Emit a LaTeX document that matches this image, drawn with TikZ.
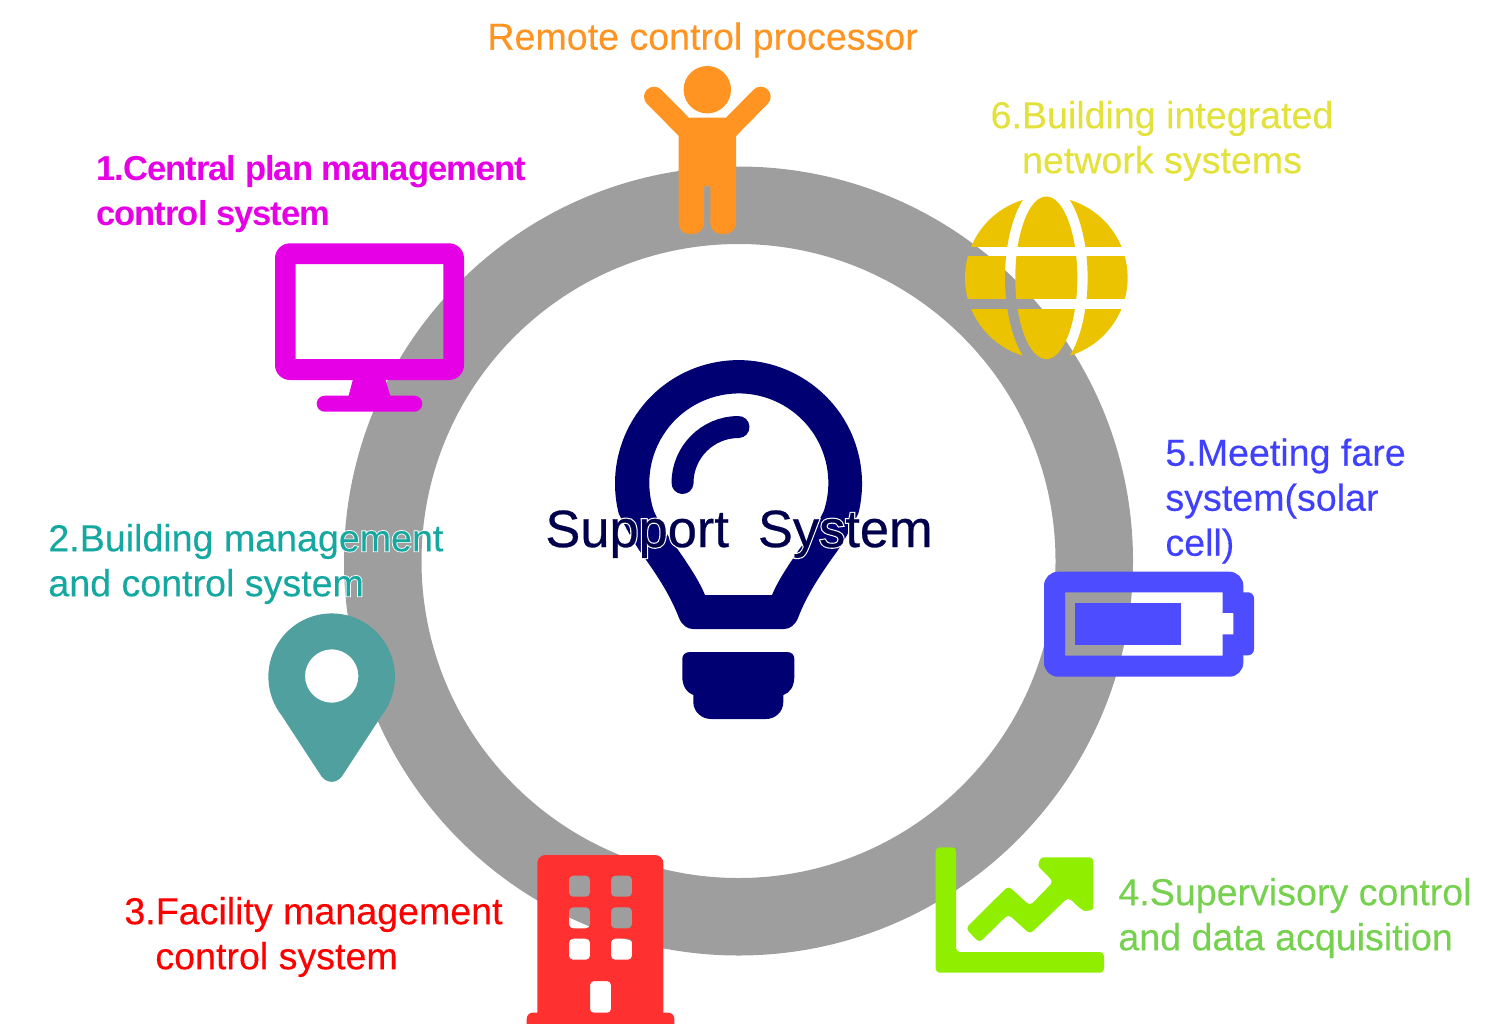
\documentclass[tikz,border=0pt]{standalone}
\usepackage{fontspec}
\setmainfont[FakeBold=0.2]{Liberation Sans}
\newfontfamily\headfont[FakeBold=0.5]{Liberation Sans}
\newfontfamily\halofont[FakeBold=5]{Liberation Sans}
\newfontfamily\boldlabel[LetterSpace=-2.9]{Liberation Sans Bold}
\usetikzlibrary{positioning}
\definecolor{ringcol}{HTML}{9E9E9E}
\definecolor{navycol}{HTML}{000073}
\definecolor{navytext}{HTML}{00004D}
\definecolor{magcol}{HTML}{E600E6}
\definecolor{pincol}{HTML}{50A0A0}
\definecolor{tealtext}{HTML}{14A8A0}
\definecolor{redcol}{HTML}{FF3030}
\definecolor{limecol}{HTML}{90EE00}
\definecolor{greentext}{HTML}{76D14F}
\definecolor{batcol}{HTML}{4D4DFF}
\definecolor{bluetext}{HTML}{4040FF}
\definecolor{globecol}{HTML}{EBC300}
\definecolor{yellowtext}{HTML}{E3E13B}
\definecolor{orangecol}{HTML}{FF9422}
\tikzset{
  lbl/.style={inner sep=0pt, anchor=west, align=left, font=\fontsize{18.8}{22.5}\selectfont},
  head/.style={inner sep=0pt, anchor=base west, font=\headfont\fontsize{26.2}{30}\selectfont},
  hole/.style={even odd rule}
}
\begin{document}
\begin{tikzpicture}[x=0.5pt,y=-0.5pt]
  \useasboundingbox (0,0) rectangle (1503,1023);
  % ring
  \fill [ringcol, hole] (738.5,561) circle [radius=394.5] (738.5,561) circle [radius=317];
  % bulb
  \fill [navycol, hole] (618.7,513.5) arc (166:374:123.5)
    .. controls (850,530) and (842,545) .. (833,557)
    .. controls (818,578) and (806,597) .. (798,618)
    .. controls (795,625) and (790,629) .. (784,629) -- (693,629)
    .. controls (687,629) and (682,625) .. (679,618)
    .. controls (671,597) and (659,578) .. (644,557)
    .. controls (635,545) and (627,530) .. (618.7,513.5) -- cycle
    (653.7,510.6) arc (162:378:89.5)
    .. controls (815,530) and (803,543) .. (792,560)
    .. controls (784,572) and (777,583) .. (772,595) -- (705,595)
    .. controls (700,583) and (693,572) .. (685,560)
    .. controls (674,543) and (662,530) .. (653.7,510.6) -- cycle;
  \draw [navycol, line width=11pt, line cap=round] (682.5,483) arc (180:270:56);
  \fill [navycol] (690,652) -- (787,652) .. controls (792,652) and (794.3,655) .. (794.3,659)
    -- (794.3,677) .. controls (794.3,686) and (790,693) .. (783.3,695) -- (783.3,702)
    .. controls (783.3,712) and (775,719) .. (766,719) -- (711,719)
    .. controls (702,719) and (693.3,712) .. (693.3,702) -- (693.3,695)
    .. controls (687,693) and (682.3,686) .. (682.3,677) -- (682.3,659)
    .. controls (682.3,655) and (685,652) .. (690,652) -- cycle;
  % monitor
  \fill [magcol, hole] [rounded corners=7.5pt] (275,243.3) rectangle (464,380)
    [sharp corners] (295.7,264) rectangle (443.3,359);
  \fill [magcol] (353.3,378) -- (385,378) -- (390.7,397) -- (348.3,397) -- cycle;
  \fill [magcol, rounded corners=4pt] (316.7,395.7) rectangle (422.3,411.7);
  % pin
  \fill [pincol, hole] (281.8,715.7) arc (142:398:63.3) -- (341.7,776.7)
    .. controls (336,783.5) and (327.5,783.5) .. (321.7,776.7) -- cycle
    (331.7,676) circle [radius=26.7];
  % building
  \fill [redcol, hole] [rounded corners=4pt] (537.3,855) rectangle (663.3,1020)
    [rounded corners=2pt]
    \foreach \wx in {569,611}{\foreach \wy in {875.7,907.3,938.7}{ (\wx,\wy) rectangle ++(21,21)}}
    (590,1013) -- (590,981) -- (611,981) -- (611,1013) -- cycle;
  \fill [redcol, rounded corners=3pt] (526.7,1012.7) -- (674.3,1012.7) -- (674.3,1030) -- (526.7,1030) -- cycle;
  % chart
  \fill [limecol, rounded corners=2pt] (935.7,847.3) -- (956,847.3) -- (956,952) -- (1104,952) -- (1104,972.7) -- (935.7,972.7) -- cycle;
  \fill [limecol, rounded corners=2pt] (965.7,928.3) -- (1008.3,886) -- (1030,905.7) -- (1053.3,881.7) -- (1042,870)
    .. controls (1037,865) and (1040,857.3) .. (1047,857.3) -- (1093.3,857.3) -- (1093.3,904)
    .. controls (1093.3,910) and (1086,912) .. (1080,908.3) -- (1068.3,897.3) -- (1030,934) -- (1008.3,914.3) -- (979.3,942.7) -- cycle;
  % battery
  \fill [batcol, hole] [rounded corners=7pt] (1044,571.7) rectangle (1243.3,676.7)
    [sharp corners] (1065,592.3) -- (1222.7,592.3) -- (1222.7,613.3) -- (1233.3,613.3) -- (1233.3,634.3)
    -- (1222.7,634.3) -- (1222.7,655.7) -- (1065,655.7) -- cycle;
  \fill [batcol, rounded corners=3pt] (1236,592.3) -- (1254,592.3) -- (1254,655.3) -- (1236,655.3) -- cycle;
  \fill [white] (1222.7,613.3) rectangle (1233.3,634.3);
  \fill [batcol] (1075,602.7) rectangle (1180.7,645);
  % globe
  \foreach \ya/\yb in {190/246,256.7/298.7,309.3/370}{
    \begin{scope}
      \clip (950,\ya) rectangle (1140,\yb);
      \clip (1046.3,277.8) circle [radius=81.3];
      \fill [globecol] (1046.3,277.8) ellipse [x radius=31, y radius=81.3];
      \fill [globecol, hole] (950,180) rectangle (1140,380) (1046.3,277.8) ellipse [x radius=41.3, y radius=94.7];
    \end{scope}
  }
  % person
  \fill [orangecol] (707.3,89.7) circle [radius=23.7];
  \draw [orangecol, line width=10pt, line cap=round] (654,96.7) -- (690,133);
  \draw [orangecol, line width=10pt, line cap=round] (760.7,96.7) -- (725,133);
  \fill [orangecol] (678.7,130) -- (690,117.7) -- (725,117.7) -- (736,130) -- (736,222)
    .. controls (736,230) and (731,234) .. (724,234) -- (722,234)
    .. controls (715,234) and (710.3,230) .. (710.3,222) -- (710.3,186) -- (704,186) -- (704,222)
    .. controls (704,230) and (699,234) .. (692,234) -- (690,234)
    .. controls (683,234) and (678.7,230) .. (678.7,222) -- cycle;
  % labels
  \node [lbl, text=orangecol] (remote) at (487,40) {Remote control processor};
  \node [lbl, text=magcol, font=\boldlabel\fontsize{17.3}{22.5}\selectfont] (central) at (96,194) {1.Central plan management\\control system};
  \node [lbl, text=yellowtext, align=center, anchor=center] (network) at (1162,141) {6.Building integrated\\network systems};
  \node [lbl, text=bluetext] (meeting) at (1165,501) {5.Meeting fare\\system(solar\\cell)};
  \node [lbl, text=white, font=\halofont\fontsize{18.8}{22.5}\selectfont] (buildinghalo) at (48,564) {2.Building management\\and control system};
  \node [lbl, text=tealtext] (building) at (48,564) {2.Building management\\and control system};
  \node [lbl, text=red] (facility) at (124,937) {3.Facility management\\\hspace*{15.5pt}control system};
  \node [lbl, text=greentext] (scada) at (1118,918) {4.Supervisory control\\and data acquisition};
  \node [head, text=white, font=\halofont\fontsize{26.2}{30}\selectfont] (supporthalo) at (545,547) {Support\ \ System};
  \node [head, text=navytext] (support) at (545,547) {Support\ \ System};
\end{tikzpicture}
\end{document}
